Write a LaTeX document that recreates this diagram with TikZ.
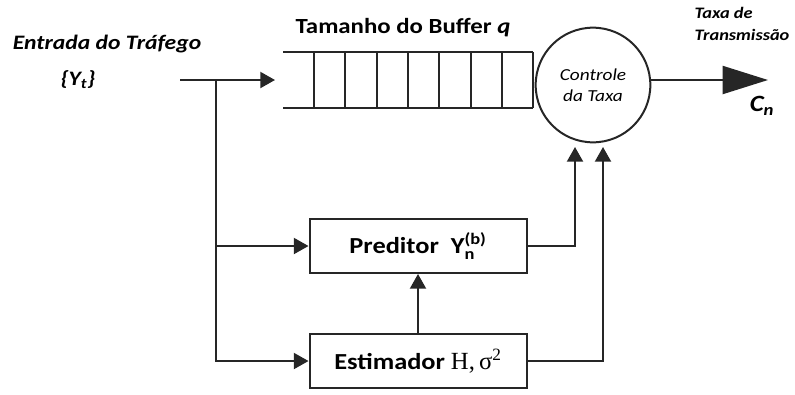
\documentclass[tikz,border=0pt]{standalone}
\usepackage{amsmath}
\usepackage{fontspec}
\setmainfont{Carlito}[FakeStretch=1.15]
\newfontfamily\serifH{Liberation Serif}
\usetikzlibrary{arrows.meta}

\begin{document}
\begin{tikzpicture}[x=0.75pt, y=-0.75pt,
		line width=1.5pt, draw=black!85,
		tip/.style={-{Triangle[length=11pt, width=12pt]}},
		bigtip/.style={-{Triangle[length=34pt, width=21pt]}},
		block/.style={draw, minimum width=162.75pt, minimum height=40.5pt, inner sep=0pt, font=\fontsize{17.2}{20}\selectfont\bfseries},
		lbl/.style={inner sep=0pt, font=\fontsize{15.4}{18}\selectfont\bfseries\itshape}]
	\useasboundingbox (0, 0) rectangle (795, 394);

	% texto de entrada
	\node[lbl] at (107, 44) (entrada) {Entrada do Tráfego};
	\node[lbl] at (78, 80) (yt) {\{Y\textsubscript{t}\}};

	% fila do buffer
	\node[inner sep=0pt, font=\fontsize{16.2}{18}\selectfont\bfseries] at (403, 28) (tamanho) {Tamanho do Buffer \textit{q}};
	\draw (283, 52) -- (533, 52);
	\draw (283, 108) -- (533, 108);
	\foreach \k in {0, ..., 7}{
		\draw (314 + 31.3*\k, 52) -- (314 + 31.3*\k, 108);
	}

	% controle
	\node[draw, circle, minimum size=86pt, inner sep=0pt, align=center, font=\fontsize{12.6}{15}\selectfont\itshape] at (593, 85) (ctrl) {Controle\\[1pt]da Taxa};
	\node[inner sep=0pt, align=left, font=\fontsize{12}{17}\selectfont\bfseries\itshape] at (742, 24) (taxa) {Taxa de\\Transmissão};
	\node[inner sep=0pt, font=\fontsize{17.5}{20}\selectfont\bfseries\itshape] at (762, 106) (cn) {C\textsubscript{n}};
	\coordinate (out) at (768, 80);
	\draw[bigtip] (ctrl.west |- out) ++(116, 0) -- (out);

	% blocos
	\node[block] at (418, 246) (pred) {Preditor~~$\text{Y}_{\text{n}}^{\text{(b)}}$};
	\node[block] at (418, 361) (est) {Estimador {\mdseries\serifH\fontsize{18.5}{20}\selectfont H,\,σ\textsuperscript{2}}};

	% entrada e ramificacoes
	\coordinate (in) at (180, 80);
	\coordinate (split) at (216, 80);
	\coordinate (bufin) at (275, 80);
	\draw[tip] (in) -- (bufin);
	\draw (split) -- (216, 246);
	\draw[tip] (216, 246) -- (pred.west);
	\draw[tip] (216, 246) |- (est.west);

	\draw[tip] (est.north) -- (pred.south);

	\coordinate (inA) at (575, 147);
	\coordinate (inB) at (603, 147);
	\draw[tip] (pred.east) -| (inA);
	\draw[tip] (est.east) -| (inB);

\end{tikzpicture}
\end{document}
